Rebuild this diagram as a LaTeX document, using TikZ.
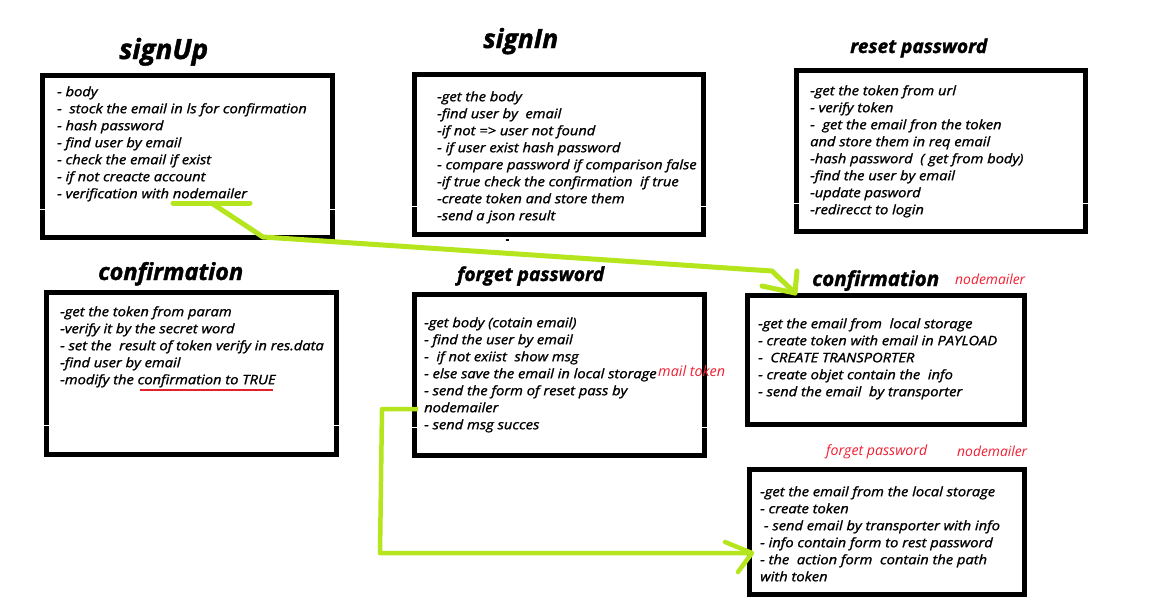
\documentclass[tikz,border=0pt]{standalone}
\usepackage{fontspec}
\setmainfont{Open Sans}
\newfontfamily\bodyfont{Open Sans}[FakeStretch=1.13,FakeBold=1.3]
\newfontfamily\titlefont{Open Sans}[FakeBold=1.5]
\definecolor{lime}{RGB}{181,230,29}
\definecolor{pred}{RGB}{240,30,50}
\definecolor{uline}{RGB}{230,30,40}
\begin{document}
\begin{tikzpicture}[x=1pt,y=-1pt,
  boxst/.style n args={2}{draw=black,line width=5pt,inner sep=0pt,outer sep=0pt,minimum width=#1,minimum height=#2},
  ttl/.style={anchor=base west,inner sep=0pt,font=\titlefont\bfseries\itshape},
  redlbl/.style={anchor=base west,inner sep=0pt,font=\itshape,text=pred},
  txt/.style={anchor=north west,inner sep=0pt,align=left,font=\bodyfont\itshape\fontsize{13}{17}\selectfont},
  arr/.style={draw=lime,line width=5pt,line cap=round,line join=round},
  gap/.style={draw=white,line width=1pt}]
\useasboundingbox (0,0) rectangle (1154,608);
\fill[white] (0,0) rectangle (1154,608);
% boxes
\node[boxst={290pt}{162pt}] (signup) at (187.5,156.5) {};
\node[boxst={289pt}{160pt}] (signin) at (559,154.5) {};
\node[boxst={289pt}{161pt}] (reset) at (941,151) {};
\node[boxst={290pt}{162pt}] (confl) at (191.5,373.5) {};
\node[boxst={290pt}{161pt}] (forget) at (559.5,375) {};
\node[boxst={277pt}{129pt}] (confr) at (886,360) {};
\node[boxst={275pt}{125pt}] (forgetr) at (887,532) {};
% white gaps in the borders
\draw[gap] (39,209) -- (46,209); \draw[gap] (329,209) -- (336,209);
\draw[gap] (411,206) -- (418,206); \draw[gap] (700,206) -- (707,206);
\draw[gap] (793,203) -- (800,203); \draw[gap] (1082,203) -- (1089,203);
\draw[gap] (43,425) -- (50,425); \draw[gap] (333,425) -- (340,425);
\draw[gap] (411,427) -- (418,427); \draw[gap] (701,427) -- (708,427);
\fill[black] (506,239) rectangle (509,241);
% titles
\node[ttl] (tsignup) at (119,59) {\resizebox{89pt}{!}{signUp}};
\node[ttl] (tsignin) at (483,48) {\resizebox{75pt}{!}{signIn}};
\node[ttl] (treset) at (850,53) {\resizebox{137pt}{!}{reset password}};
\node[ttl] (tconfl) at (98,280) {\resizebox{145pt}{!}{confirmation}};
\node[ttl] (tforget) at (457,281) {\resizebox{147pt}{!}{forget password}};
\node[ttl] (tconfr) at (812,286) {\resizebox{127pt}{!}{confirmation}};
% red labels
\node[redlbl] (lmail) at (658,376) {\resizebox{67pt}{!}{mail token}};
\node[redlbl] (lnm1) at (955,284) {\resizebox{70pt}{!}{nodemailer}};
\node[redlbl] (lfp) at (826,455) {\resizebox{101pt}{!}{forget password}};
\node[redlbl] (lnm2) at (957,456) {\resizebox{70pt}{!}{nodemailer}};
% body texts
\node[txt] (bsignup) at (57,84) {\rule{0pt}{12pt}- body\\- \ stock the email in ls for confirmation\\- hash password\\- find user by email\\- check the email if exist\\- if not creacte account\\- verification with nodemailer};
\node[txt] (bsignin) at (437,89) {\rule{0pt}{12pt}-get the body\\-find user by \ email\\-if not => user not found\\- if user exist hash password\\- compare password if comparison false\\-if true check the confirmation \ if true\\-create token and store them\\-send a json result};
\node[txt] (breset) at (810,83) {\rule{0pt}{12pt}-get the token from url\\- verify token\\- \ get the email fron the token\\and store them in req email\\-hash password \ ( get from body)\\-find the user by email\\-update pasword\\-redirecct to login};
\node[txt] (bconfl) at (60,304) {\rule{0pt}{12pt}-get the token from param\\-verify it by the secret word\\- set the \ result of token verify in res.data\\-find user by email\\-modify the confirmation to TRUE};
\node[txt] (bforget) at (424,315) {\rule{0pt}{12pt}-get body (cotain email)\\- find the user by email\\- \ if not exiist \ show msg\\- else save the email in local storage\\- send the form of reset pass by\\nodemailer\\- send msg succes};
\node[txt] (bconfr) at (758,316) {\rule{0pt}{12pt}-get the email from \ local storage\\- create token with email in PAYLOAD\\- \ CREATE TRANSPORTER\\- create objet contain the \ info\\- send the email \ by transporter};
\node[txt] (bforgetr) at (760,484) {\rule{0pt}{12pt}-get the email from the local storage\\- create token\\\ - send email by transporter with info\\- info contain form to rest password\\- the \ action form \ contain the path\\with token};
% red underline
\draw[uline,line width=1.5pt] (140,390) -- (273,390);
% arrow 1
\coordinate (u1) at (173,203);
\coordinate (u2) at (250,203);
\coordinate (d0) at (213,204);
\coordinate (b1) at (263,237);
\coordinate (b2) at (772,271);
\coordinate (t1) at (795,293);
\coordinate (h1) at (797,271);
\coordinate (h2) at (762,286);
\draw[arr] (u1) -- (u2);
\draw[arr] (d0) -- (b1) -- (b2) -- (t1);
\draw[arr] (h1) -- (t1) -- (h2);
% arrow 2
\coordinate (a0) at (418,409);
\coordinate (a1) at (382,409);
\coordinate (a2) at (380,553);
\coordinate (t2) at (752,553);
\coordinate (k1) at (725,542);
\coordinate (k2) at (738,572);
\draw[arr,line width=4.5pt,line cap=butt] (a0) -- (a1) -- (a2) -- (t2);
\draw[arr,line width=4.5pt] (k1) -- (t2) -- (k2);
\end{tikzpicture}
\end{document}
